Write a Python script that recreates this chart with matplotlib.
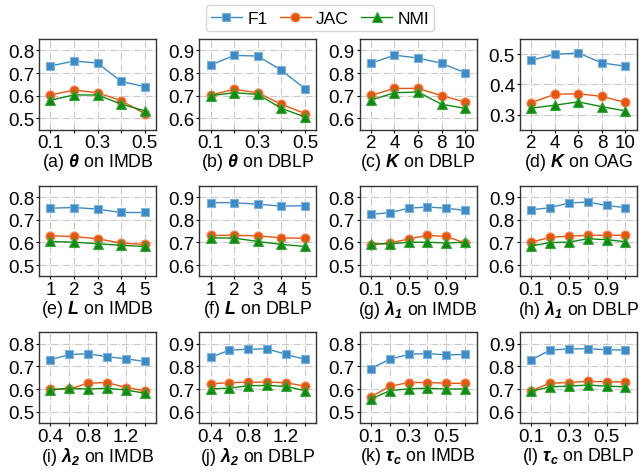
import matplotlib
matplotlib.use("Agg")
import matplotlib.pyplot as plt

plt.rcParams["font.family"] = ["Liberation Sans", "DejaVu Sans"]
plt.rcParams["mathtext.fontset"] = "custom"
plt.rcParams["mathtext.rm"] = "Liberation Sans"
plt.rcParams["mathtext.it"] = "Liberation Sans:italic"
plt.rcParams["mathtext.bf"] = "Liberation Sans:bold"
plt.rcParams["mathtext.bfit"] = "Liberation Sans:italic:bold"

# x values per panel
x_theta = [0.1, 0.2, 0.3, 0.4, 0.5]
x_k = [2, 4, 6, 8, 10]
x_l = [1, 2, 3, 4, 5]
x_lam1 = [0.1, 0.3, 0.5, 0.7, 0.9, 1.1]
x_lam2 = [0.4, 0.6, 0.8, 1.0, 1.2, 1.4]
x_tau = [0.1, 0.2, 0.3, 0.4, 0.5, 0.6]

# tick labels shown per panel
lab_theta = ["0.1", "", "0.3", "", "0.5"]
lab_k = ["2", "4", "6", "8", "10"]
lab_l = ["1", "2", "3", "4", "5"]
lab_lam1 = ["0.1", "", "0.5", "", "0.9", ""]
lab_lam2 = ["0.4", "", "0.8", "", "1.2", ""]
lab_tau = ["0.1", "", "0.3", "", "0.5", ""]

titles = [
    r"(a) $\mathbfit{\theta}$ on IMDB",
    r"(b) $\mathbfit{\theta}$ on DBLP",
    r"(c) $\mathbfit{K}$ on DBLP",
    r"(d) $\mathbfit{K}$ on OAG",
    r"(e) $\mathbfit{L}$ on IMDB",
    r"(f) $\mathbfit{L}$ on DBLP",
    r"(g) $\mathbfit{\lambda_1}$ on IMDB",
    r"(h) $\mathbfit{\lambda_1}$ on DBLP",
    r"(i) $\mathbfit{\lambda_2}$ on IMDB",
    r"(j) $\mathbfit{\lambda_2}$ on DBLP",
    r"(k) $\mathbfit{\tau_c}$ on IMDB",
    r"(l) $\mathbfit{\tau_c}$ on DBLP",
]

f1 = [
    [0.731, 0.753, 0.744, 0.663, 0.640],
    [0.835, 0.878, 0.875, 0.812, 0.731],
    [0.843, 0.879, 0.866, 0.843, 0.801],
    [0.480, 0.499, 0.504, 0.471, 0.460],
    [0.751, 0.754, 0.747, 0.732, 0.732],
    [0.876, 0.875, 0.869, 0.860, 0.862],
    [0.724, 0.731, 0.751, 0.756, 0.751, 0.741],
    [0.844, 0.853, 0.874, 0.878, 0.863, 0.853],
    [0.729, 0.753, 0.756, 0.743, 0.734, 0.722],
    [0.840, 0.872, 0.876, 0.878, 0.853, 0.831],
    [0.690, 0.732, 0.753, 0.757, 0.751, 0.753],
    [0.829, 0.872, 0.878, 0.878, 0.874, 0.872],
]
jac = [
    [0.603, 0.625, 0.613, 0.578, 0.521],
    [0.703, 0.728, 0.713, 0.662, 0.621],
    [0.701, 0.732, 0.732, 0.700, 0.672],
    [0.339, 0.367, 0.369, 0.360, 0.340],
    [0.629, 0.626, 0.616, 0.597, 0.591],
    [0.731, 0.731, 0.729, 0.720, 0.718],
    [0.590, 0.597, 0.615, 0.631, 0.626, 0.597],
    [0.701, 0.722, 0.728, 0.731, 0.732, 0.731],
    [0.600, 0.600, 0.626, 0.629, 0.607, 0.593],
    [0.724, 0.728, 0.731, 0.731, 0.728, 0.713],
    [0.566, 0.612, 0.629, 0.629, 0.626, 0.625],
    [0.693, 0.726, 0.729, 0.734, 0.732, 0.732],
]
nmi = [
    [0.580, 0.603, 0.603, 0.563, 0.533],
    [0.700, 0.713, 0.706, 0.644, 0.606],
    [0.680, 0.713, 0.716, 0.662, 0.644],
    [0.321, 0.331, 0.342, 0.326, 0.312],
    [0.604, 0.601, 0.594, 0.587, 0.582],
    [0.720, 0.719, 0.704, 0.691, 0.682],
    [0.593, 0.594, 0.600, 0.601, 0.597, 0.601],
    [0.684, 0.699, 0.701, 0.716, 0.712, 0.703],
    [0.596, 0.604, 0.600, 0.604, 0.596, 0.582],
    [0.701, 0.704, 0.715, 0.716, 0.712, 0.693],
    [0.556, 0.593, 0.601, 0.604, 0.600, 0.601],
    [0.690, 0.710, 0.713, 0.718, 0.713, 0.710],
]

xs = [x_theta, x_theta, x_k, x_k, x_l, x_l, x_lam1, x_lam1, x_lam2, x_lam2, x_tau, x_tau]
xlabs = [lab_theta, lab_theta, lab_k, lab_k, lab_l, lab_l,
         lab_lam1, lab_lam1, lab_lam2, lab_lam2, lab_tau, lab_tau]

imdb_lim = (0.45, 0.85)
dblp_lim = (0.55, 0.95)
oag_lim = (0.25, 0.55)
ylims = [imdb_lim, dblp_lim, dblp_lim, oag_lim, imdb_lim, dblp_lim,
         imdb_lim, dblp_lim, imdb_lim, dblp_lim, imdb_lim, dblp_lim]
imdb_ticks = [0.5, 0.6, 0.7, 0.8]
dblp_ticks = [0.6, 0.7, 0.8, 0.9]
oag_ticks = [0.3, 0.4, 0.5]
yticks = [imdb_ticks, dblp_ticks, dblp_ticks, oag_ticks, imdb_ticks, dblp_ticks,
          imdb_ticks, dblp_ticks, imdb_ticks, dblp_ticks, imdb_ticks, dblp_ticks]

c_f1 = "#3d8bc4"
c_jac = "#e6550d"
c_nmi = "#108a10"

fig, axes = plt.subplots(3, 4, figsize=(6.4, 4.77), dpi=100)
fig.subplots_adjust(left=0.061, right=0.995, top=0.916, bottom=0.111,
                    wspace=0.37, hspace=0.62)

for i, ax in enumerate(axes.flat):
    x = xs[i]
    l1, = ax.plot(x, f1[i], color=c_f1, marker="s", ms=6, lw=1,
                  mec="#7fb3dc", mew=0.8, label="F1")
    l2, = ax.plot(x, jac[i], color=c_jac, marker="o", ms=6.5, lw=1,
                  mec="#f08a5a", mew=0.8, label="JAC")
    l3, = ax.plot(x, nmi[i], color=c_nmi, marker="^", ms=7.5, lw=1,
                  mec="#3aa53a", mew=0.8, label="NMI")
    ax.set_xticks(x)
    ax.set_xticklabels(xlabs[i])
    ax.set_ylim(*ylims[i])
    ax.set_yticks(yticks[i])
    ax.set_yticklabels([f"{t:.1f}" for t in yticks[i]])
    pad = (x[-1] - x[0]) * 0.12
    ax.set_xlim(x[0] - pad, x[-1] + pad)
    ax.grid(True, ls="-.", color="#c8c8c8", lw=0.8)
    ax.tick_params(labelsize=13.5, length=2.5, width=0.8, pad=1)
    for s in ax.spines.values():
        s.set_color("#333333")
        s.set_linewidth(1)
    ax.set_xlabel(titles[i], fontsize=12.8, labelpad=0)

fig.legend([l1, l2, l3], ["F1", "JAC", "NMI"], loc="upper center",
           bbox_to_anchor=(0.5, 1.005), ncol=3, fontsize=12.5, frameon=True,
           handlelength=1.8, columnspacing=0.7, handletextpad=0.3,
           borderpad=0.3, edgecolor="#cccccc", fancybox=True)

fig.savefig("out.png", dpi=100)
